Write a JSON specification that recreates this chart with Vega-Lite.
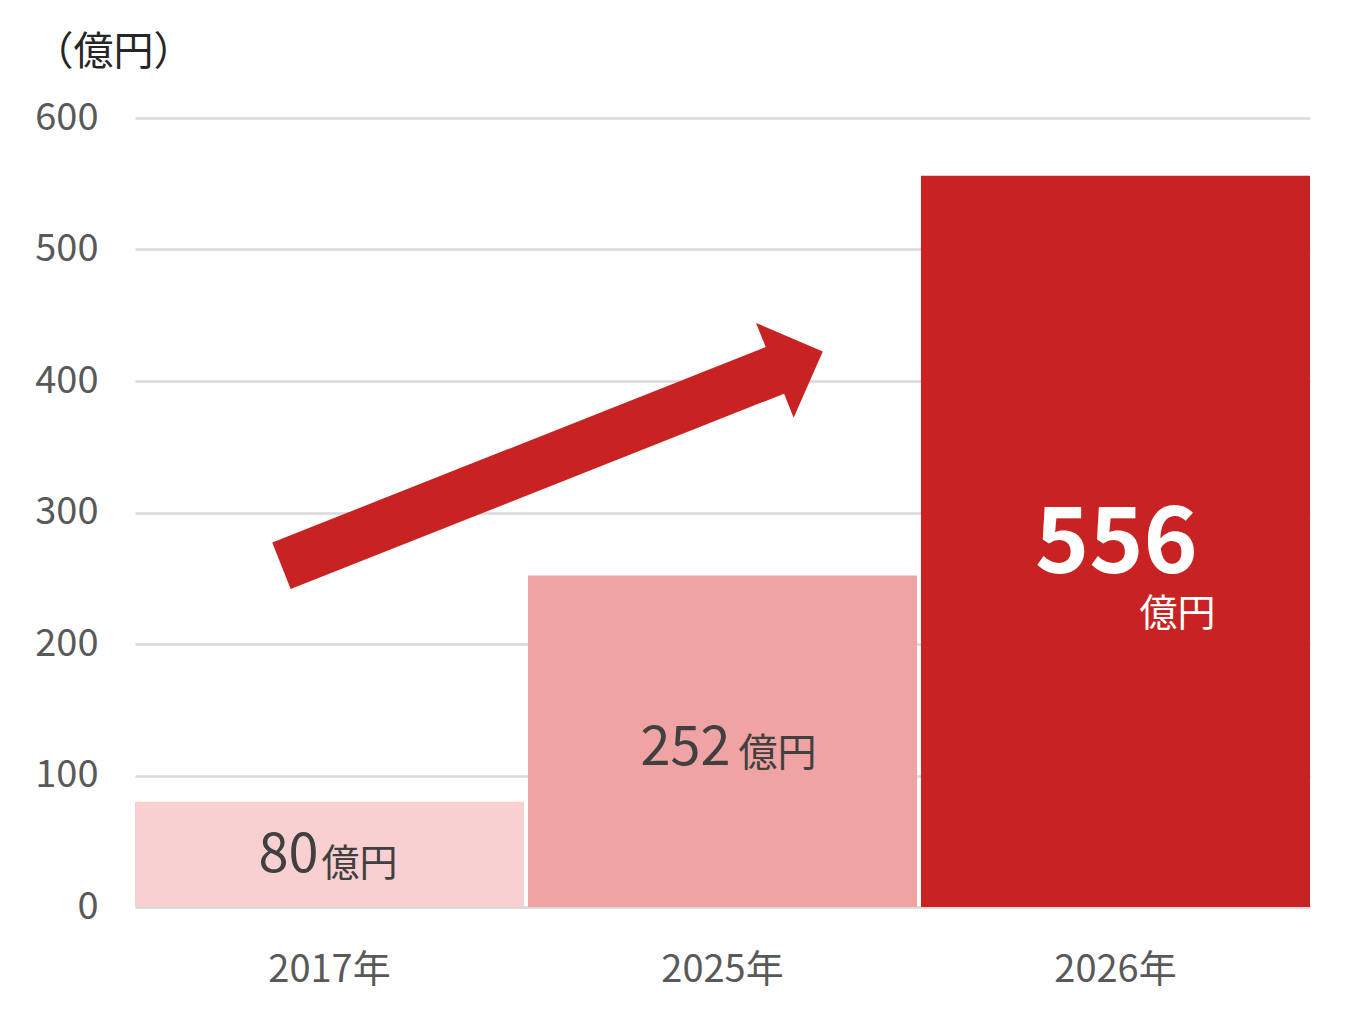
{
  "$schema": "https://vega.github.io/schema/vega-lite/v6.json",
  "width": 1175,
  "height": 789,
  "autosize": {"type": "none"},
  "padding": {"left": 135, "top": 118, "right": 52, "bottom": 124},
  "background": "#ffffff",
  "datasets": {
    "bars": [
      {"year": "2017年", "value": 80, "num": "80", "unit": "億円"},
      {"year": "2025年", "value": 252, "num": "252", "unit": "億円"},
      {"year": "2026年", "value": 556, "num": "556", "unit": "億円"}
    ],
    "arrow": [
      {"x": 1.065, "y": 341}
    ]
  },
  "layer": [
    {
      "data": {"name": "bars"},
      "encoding": {
        "x": {
          "field": "year",
          "type": "nominal",
          "sort": null,
          "scale": {"paddingInner": 0.01, "paddingOuter": 0},
          "axis": {
            "title": null,
            "labelAngle": 0,
            "labelColor": "#595959",
            "labelFontSize": 38,
            "labelBaseline": "alphabetic",
            "labelPadding": 74,
            "ticks": false,
            "tickSize": 0,
            "domain": true,
            "domainColor": "#D9D9D9",
            "domainWidth": 2,
            "grid": false
          }
        },
        "y": {
          "field": "value",
          "type": "quantitative",
          "scale": {"domain": [0, 600], "nice": false},
          "axis": {
            "values": [0, 100, 200, 300, 400, 500, 600],
            "title": "（億円）",
            "titleAngle": 0,
            "titleAlign": "left",
            "titleBaseline": "alphabetic",
            "titleX": -102,
            "titleY": -54,
            "titleFontSize": 40,
            "titleFontWeight": "normal",
            "titleColor": "#262626",
            "labelColor": "#595959",
            "labelFontSize": 38,
            "labelPadding": 37,
            "ticks": false,
            "tickSize": 0,
            "domain": false,
            "grid": true,
            "gridColor": "#D9D9D9",
            "gridWidth": 2.5
          }
        }
      },
      "layer": [
        {
          "mark": {"type": "bar"},
          "encoding": {
            "color": {
              "field": "year",
              "type": "nominal",
              "scale": {"domain": ["2017年", "2025年", "2026年"], "range": ["#F8D0D1", "#EFA3A3", "#C82322"]},
              "legend": null
            }
          }
        },
        {
          "transform": [{"filter": "datum.year === '2017年'"}],
          "mark": {"type": "text", "align": "right", "baseline": "alphabetic", "dx": -11, "dy": 70, "fontSize": 54, "color": "#404040"},
          "encoding": {"text": {"field": "num"}}
        },
        {
          "transform": [{"filter": "datum.year === '2017年'"}],
          "mark": {"type": "text", "align": "left", "baseline": "alphabetic", "dx": -8, "dy": 74, "fontSize": 38, "color": "#404040"},
          "encoding": {"text": {"field": "unit"}}
        },
        {
          "transform": [{"filter": "datum.year === '2025年'"}],
          "mark": {"type": "text", "align": "right", "baseline": "alphabetic", "dx": 8, "dy": 189, "fontSize": 54, "color": "#404040"},
          "encoding": {"text": {"field": "num"}}
        },
        {
          "transform": [{"filter": "datum.year === '2025年'"}],
          "mark": {"type": "text", "align": "left", "baseline": "alphabetic", "dx": 16, "dy": 190, "fontSize": 39, "color": "#404040"},
          "encoding": {"text": {"field": "unit"}}
        },
        {
          "transform": [{"filter": "datum.year === '2026年'"}],
          "mark": {"type": "text", "align": "center", "baseline": "alphabetic", "dx": 1, "dy": 397, "fontSize": 92, "fontWeight": "bold", "color": "#ffffff"},
          "encoding": {"text": {"field": "num"}}
        },
        {
          "transform": [{"filter": "datum.year === '2026年'"}],
          "mark": {"type": "text", "align": "center", "baseline": "alphabetic", "dx": 62, "dy": 450, "fontSize": 38, "color": "#ffffff"},
          "encoding": {"text": {"field": "unit"}}
        }
      ]
    },
    {
      "data": {"name": "arrow"},
      "mark": {
        "type": "point",
        "shape": "M-1,-0.086L0.823,-0.086L0.823,-0.175L1,0L0.823,0.175L0.823,0.086L-1,0.086Z",
        "angle": -21.6,
        "size": 339000,
        "filled": true,
        "opacity": 1,
        "strokeWidth": 0,
        "color": "#C82322"
      },
      "encoding": {
        "x": {"field": "x", "type": "quantitative", "scale": {"domain": [0, 3], "nice": false, "zero": false}, "axis": null},
        "y": {"field": "y", "type": "quantitative"}
      }
    }
  ],
  "resolve": {"scale": {"x": "independent"}},
  "config": {
    "font": "Noto Sans CJK JP",
    "view": {"stroke": null}
  }
}
